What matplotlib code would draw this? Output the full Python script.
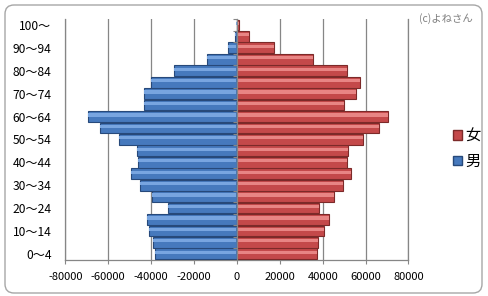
import numpy as np
import matplotlib
matplotlib.use("Agg")
import matplotlib.pyplot as plt
from matplotlib.patches import Patch, FancyBboxPatch

plt.rcParams['font.family'] = ['Noto Sans CJK JP', 'DejaVu Sans']

# 年齢階級（下から上へ）
age_labels = ["0〜4", "5〜9", "10〜14", "15〜19", "20〜24", "25〜29", "30〜34",
              "35〜39", "40〜44", "45〜49", "50〜54", "55〜59", "60〜64", "65〜69",
              "70〜74", "75〜79", "80〜84", "85〜89", "90〜94", "95〜99", "100〜"]
male = [-38100, -39000, -41200, -42100, -32000, -39800, -45100, -49300, -46200,
        -46500, -55200, -64000, -69300, -43500, -43500, -40300, -29500, -14100,
        -4300, -800, -100]
female = [37200, 37700, 40600, 42900, 38100, 45300, 49300, 53200, 51300, 51600,
          58800, 66100, 70400, 49900, 55400, 57400, 51300, 35500, 17100, 5800, 1000]
x_ticks = [-80000, -60000, -40000, -20000, 0, 20000, 40000, 60000, 80000]

BLUE, BLUE_DARK, BLUE_LIGHT = "#4679bd", "#27497a", "#78a5e0"
RED, RED_DARK, RED_LIGHT = "#c4494a", "#7c2a29", "#e88584"
GRID = "#868686"

fig = plt.figure(figsize=(4.88, 2.96), dpi=100, facecolor="white")
ax = fig.add_axes([0.134, 0.123, 0.703, 0.812])

y = np.arange(len(age_labels))
male_arr = np.array(male, dtype=float)
female_arr = np.array(female, dtype=float)

# 本体 + ハイライトで立体風に
ax.barh(y, male_arr, height=0.94, color=BLUE, edgecolor=BLUE_DARK, linewidth=0.8, zorder=3)
ax.barh(y + 0.14, male_arr + 500, left=-500, height=0.28, color=BLUE_LIGHT,
        linewidth=0, zorder=4)
ax.barh(y, female_arr, height=0.94, color=RED, edgecolor=RED_DARK, linewidth=0.8, zorder=3)
ax.barh(y + 0.14, female_arr - 500, left=500, height=0.28, color=RED_LIGHT,
        linewidth=0, zorder=4)

ax.set_xlim(-80000, 80000)
ax.set_ylim(-0.5, len(age_labels) - 0.5)
ax.set_xticks(x_ticks)
ax.set_xticklabels([str(v) for v in x_ticks])
ax.set_yticks(y[::2])
ax.set_yticklabels(age_labels[::2])
ax.tick_params(axis='y', length=0, pad=10, labelsize=8.7)
ax.tick_params(axis='x', length=3, direction='out', color=GRID, pad=6, labelsize=8)
ax.xaxis.grid(True, color=GRID, linewidth=0.9)
ax.set_axisbelow(True)
ax.spines['top'].set_visible(False)
for s in ['left', 'right', 'bottom']:
    ax.spines[s].set_color(GRID)
    ax.spines[s].set_linewidth(0.9)

# 0 の位置の縦軸（区切り目盛り付き）
ax2 = ax.twinx()
ax2.set_ylim(ax.get_ylim())
for s in ['top', 'right', 'bottom']:
    ax2.spines[s].set_visible(False)
ax2.spines['left'].set_position(('data', 0))
ax2.spines['left'].set_color(GRID)
ax2.spines['left'].set_linewidth(0.9)
ax2.spines['left'].set_zorder(5)
ax2.yaxis.set_ticks_position('left')
ax2.set_yticks(np.arange(-0.5, len(age_labels), 1))
ax2.tick_params(axis='y', length=3, direction='out', color=GRID, labelleft=False,
                labelright=False)
ax2.patch.set_visible(False)

handles = [Patch(facecolor=RED, edgecolor=RED_DARK, label="女"),
           Patch(facecolor=BLUE, edgecolor=BLUE_DARK, label="男")]
fig.legend(handles=handles, loc='center left', bbox_to_anchor=(0.912, 0.498),
           frameon=False, fontsize=11, handlelength=0.6, handleheight=0.6,
           handletextpad=0.25, labelspacing=0.55, borderpad=0)

fig.text(0.968, 0.937, "(c)よねさん", ha='right', va='center', fontsize=7.5, color="#7f7f7f")

border = FancyBboxPatch((5, 3), 477, 288, boxstyle="round,pad=0,rounding_size=9",
                        transform=None, facecolor='none', edgecolor="#a6a6a6", linewidth=1.0)
fig.patches.append(border)

fig.savefig("out.png", dpi=100, facecolor=fig.get_facecolor())
